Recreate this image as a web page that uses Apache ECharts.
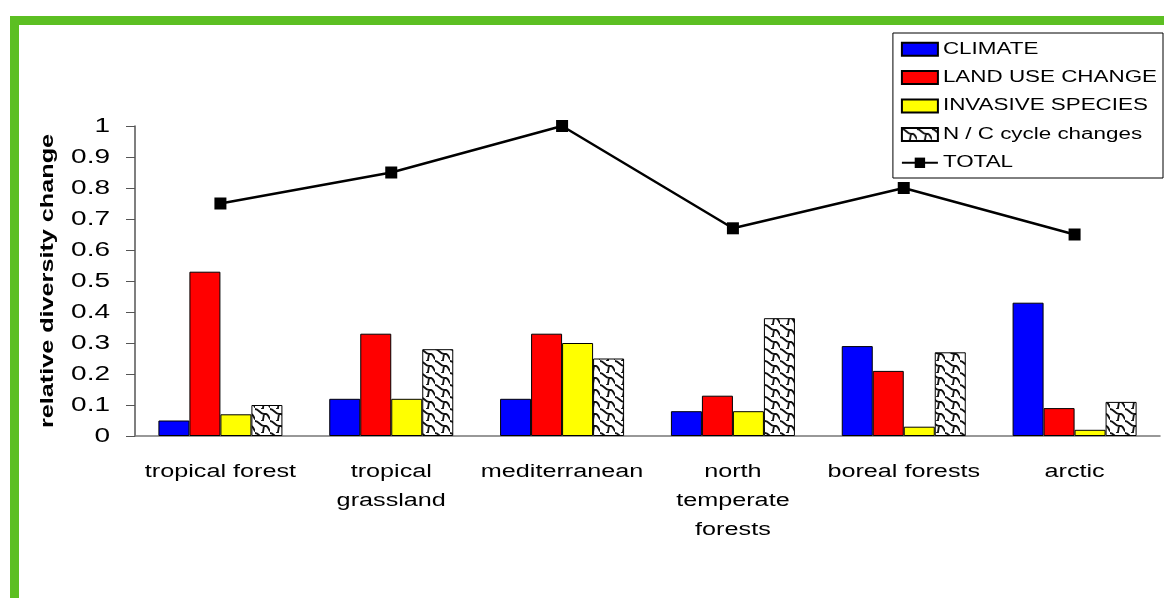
<!DOCTYPE html>
<html><head><meta charset="utf-8">
<script src="https://cdn.jsdelivr.net/npm/echarts@6/dist/echarts.min.js"></script>
<style>html,body{margin:0;padding:0;background:#fff}#c{width:1164px;height:598px}</style>
</head><body><div id="c"></div>
<script>
const categories = ['tropical forest', 'tropical\ngrassland', 'mediterranean', 'north\ntemperate\nforests', 'boreal forests', 'arctic'];
const climate = [0.05, 0.12, 0.12, 0.08, 0.29, 0.43];
const landUse = [0.53, 0.33, 0.33, 0.13, 0.21, 0.09];
const invasive = [0.07, 0.12, 0.30, 0.08, 0.03, 0.02];
const ncCycle = [0.10, 0.28, 0.25, 0.38, 0.27, 0.11];
const total = [0.75, 0.85, 1.00, 0.67, 0.80, 0.65];
const yTicks = [0, 0.1, 0.2, 0.3, 0.4, 0.5, 0.6, 0.7, 0.8, 0.9, 1];

// The reference uses a horizontally stretched (wide) typeface: emulate a font-width stretch.
const SX = 1.4;
const mctx = document.createElement('canvas').getContext('2d');
echarts.setPlatformAPI({
  measureText(text, font) {
    mctx.font = font;
    const m = mctx.measureText(text);
    return {
      width: m.width * SX,
      actualBoundingBoxAscent: m.actualBoundingBoxAscent,
      actualBoundingBoxDescent: m.actualBoundingBoxDescent,
      actualBoundingBoxLeft: m.actualBoundingBoxLeft * SX,
      actualBoundingBoxRight: m.actualBoundingBoxRight * SX,
      fontBoundingBoxAscent: m.fontBoundingBoxAscent,
      fontBoundingBoxDescent: m.fontBoundingBoxDescent
    };
  }
});
['fillText', 'strokeText'].forEach(fn => {
  const orig = CanvasRenderingContext2D.prototype[fn];
  CanvasRenderingContext2D.prototype[fn] = function (t, x, y) {
    this.save(); this.translate(x, y); this.scale(SX, 1);
    orig.call(this, t, 0, 0);
    this.restore();
  };
});

function makePattern() {
  const c = document.createElement('canvas');
  c.width = 15; c.height = 12;
  const g = c.getContext('2d');
  g.fillStyle = '#fff'; g.fillRect(0, 0, 15, 12);
  g.strokeStyle = '#111'; g.lineWidth = 1.8; g.lineCap = 'square';
  g.beginPath();
  g.moveTo(0, 1); g.bezierCurveTo(4, 1, 5, 6, 9, 6);
  g.lineTo(11, 6); g.bezierCurveTo(13, 6, 14, 10, 15, 11);
  g.moveTo(9, 6); g.lineTo(8, 12);
  g.moveTo(7, 0); g.lineTo(8, 0);
  g.stroke();
  return c;
}
const pat = { image: makePattern(), repeat: 'repeat' };

const chart = echarts.init(document.getElementById('c'), null, { renderer: 'canvas' });
const barStyle = (col) => ({ color: col, borderColor: '#000', borderWidth: 1 });
chart.setOption({
  animation: false,
  textStyle: { fontFamily: 'Liberation Sans, Arial, sans-serif' },
  graphic: [
    { type: 'rect', shape: { x: 10, y: 16, width: 1154, height: 9 }, style: { fill: '#5cbf22' } },
    { type: 'rect', shape: { x: 10, y: 16, width: 9, height: 582 }, style: { fill: '#5cbf22' } }
  ],
  grid: { left: 135, right: 4, top: 126, bottom: 162 },
  legend: {
    orient: 'vertical', right: 1, top: 33,
    data: [
      { name: 'CLIMATE', icon: 'rect' },
      { name: 'LAND USE CHANGE', icon: 'rect' },
      { name: 'INVASIVE SPECIES', icon: 'rect' },
      { name: 'N / C cycle changes', icon: 'rect' },
      { name: 'TOTAL' }
    ],
    itemWidth: 36, itemHeight: 13, itemGap: 6,
    borderColor: '#000', borderWidth: 1, padding: [5, 6, 4, 8],
    textStyle: { fontSize: 16, lineHeight: 16, color: '#000', fontFamily: 'Liberation Sans, Arial, sans-serif' },
    backgroundColor: '#fff'
  },
  xAxis: {
    type: 'category', data: categories,
    axisLine: { lineStyle: { color: '#777', width: 1.5 } },
    axisTick: { length: 8, lineStyle: { color: '#555' } },
    axisLabel: { fontSize: 18, color: '#000', margin: 22, lineHeight: 29, interval: 0 }
  },
  yAxis: {
    type: 'value', min: 0, max: 1, interval: 0.1,
    name: 'relative diversity change', nameLocation: 'middle', nameGap: 74,
    nameTextStyle: { fontSize: 18, fontWeight: 'bold', color: '#000' },
    axisLine: { show: true, lineStyle: { color: '#555', width: 1.5 } },
    axisTick: { show: true, length: 9, lineStyle: { color: '#555' } },
    splitLine: { show: false },
    axisLabel: { fontSize: 20, color: '#000', margin: 25, formatter: v => yTicks.includes(Math.round(v*10)/10) ? String(Math.round(v*10)/10) : '' }
  },
  series: [
    { name: 'CLIMATE', type: 'bar', data: climate, barWidth: 31, barGap: '0%', itemStyle: barStyle('#0000ff') },
    { name: 'LAND USE CHANGE', type: 'bar', data: landUse, barWidth: 31, barGap: '0%', itemStyle: barStyle('#ff0000') },
    { name: 'INVASIVE SPECIES', type: 'bar', data: invasive, barWidth: 31, barGap: '0%', itemStyle: barStyle('#ffff00') },
    { name: 'N / C cycle changes', type: 'bar', data: ncCycle, barWidth: 31, barGap: '0%', itemStyle: { color: pat, borderColor: '#000', borderWidth: 1 } },
    { name: 'TOTAL', type: 'line', data: total, symbol: 'rect', symbolSize: 12,
      lineStyle: { color: '#000', width: 2.5 }, itemStyle: { color: '#000' } }
  ]
});
</script></body></html>
